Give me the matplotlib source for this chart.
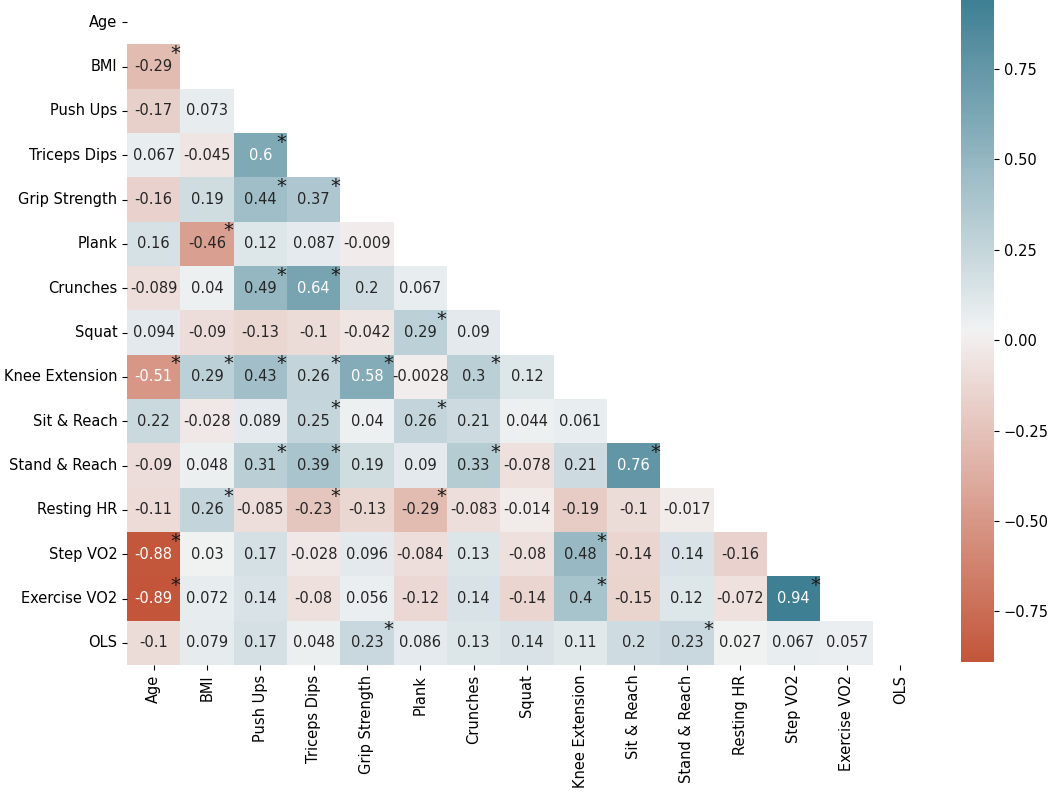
import numpy as np
import matplotlib
matplotlib.use("Agg")
import matplotlib.pyplot as plt
import seaborn as sns

labels = ["Age", "BMI", "Push Ups", "Triceps Dips", "Grip Strength", "Plank",
          "Crunches", "Squat", "Knee Extension", "Sit & Reach", "Stand & Reach",
          "Resting HR", "Step VO2", "Exercise VO2", "OLS"]

# lower triangle, row by row (row i has i values)
lower_rows = [
    [],
    [-0.29],
    [-0.17, 0.073],
    [0.067, -0.045, 0.6],
    [-0.16, 0.19, 0.44, 0.37],
    [0.16, -0.46, 0.12, 0.087, -0.009],
    [-0.089, 0.04, 0.49, 0.64, 0.2, 0.067],
    [0.094, -0.09, -0.13, -0.1, -0.042, 0.29, 0.09],
    [-0.51, 0.29, 0.43, 0.26, 0.58, -0.0028, 0.3, 0.12],
    [0.22, -0.028, 0.089, 0.25, 0.04, 0.26, 0.21, 0.044, 0.061],
    [-0.09, 0.048, 0.31, 0.39, 0.19, 0.09, 0.33, -0.078, 0.21, 0.76],
    [-0.11, 0.26, -0.085, -0.23, -0.13, -0.29, -0.083, -0.014, -0.19, -0.1, -0.017],
    [-0.88, 0.03, 0.17, -0.028, 0.096, -0.084, 0.13, -0.08, 0.48, -0.14, 0.14, -0.16],
    [-0.89, 0.072, 0.14, -0.08, 0.056, -0.12, 0.14, -0.14, 0.4, -0.15, 0.12, -0.072, 0.94],
    [-0.1, 0.079, 0.17, 0.048, 0.23, 0.086, 0.13, 0.14, 0.11, 0.2, 0.23, 0.027, 0.067, 0.057],
]

# columns marked significant (*) in each row
sig_cols = [
    [], [0], [], [2], [2, 3], [1], [2, 3], [5],
    [0, 1, 2, 3, 4, 6], [3, 5], [2, 3, 6, 9], [1, 3, 5],
    [0, 8], [0, 8, 12], [4, 10],
]

n = len(labels)
corr = np.eye(n)
for i, row in enumerate(lower_rows):
    for j, v in enumerate(row):
        corr[i, j] = v
        corr[j, i] = v

mask = np.triu(np.ones_like(corr, dtype=bool))
cmap = sns.diverging_palette(20, 220, as_cmap=True)

plt.rcParams['font.family'] = ['DejaVu Sans']
plt.rcParams['font.size'] = 10.5
fig = plt.figure(figsize=(10.52, 7.93), dpi=100)
ax = fig.add_axes([0.1207, 0.1614, 0.7603, 0.8386])
cax = fig.add_axes([0.9135, 0.165, 0.0315, 0.835])

sns.heatmap(corr, mask=mask, cmap=cmap, annot=True, fmt=".2g",
            xticklabels=labels, yticklabels=labels, ax=ax, cbar_ax=cax,
            annot_kws={"fontsize": 10.5})

# significance markers in the top-right corner of the cell
for i, cols in enumerate(sig_cols):
    for j in cols:
        ax.text(j + 0.9, i + 0.21, "*", ha="center", va="center",
                fontsize=14, color="#1a1a1a")

ax.tick_params(axis="x", labelrotation=90, labelsize=10.5)
ax.tick_params(axis="y", labelrotation=0, labelsize=10.5)
cax.tick_params(labelsize=10.5)

fig.savefig("out.png", dpi=100)
